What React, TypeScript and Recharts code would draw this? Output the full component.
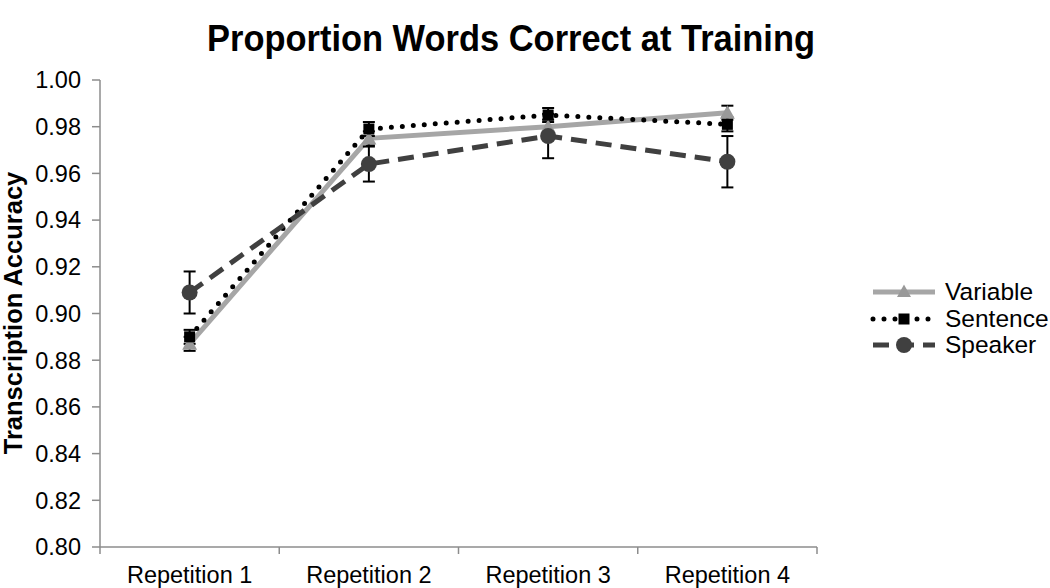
import React from 'react';
import { LineChart, Line, XAxis, YAxis, ErrorBar, Legend } from 'recharts';

const categories = ['Repetition 1', 'Repetition 2', 'Repetition 3', 'Repetition 4'];
const variable = [0.887, 0.975, 0.98, 0.986];
const variableErr = [0.003, 0.003, 0.003, 0.003];
const sentence = [0.89, 0.979, 0.985, 0.981];
const sentenceErr = [0.003, 0.003, 0.003, 0.003];
const speaker = [0.909, 0.964, 0.976, 0.965];
const speakerErr = [0.009, 0.0075, 0.0095, 0.011];
const yTicks = [0.8, 0.82, 0.84, 0.86, 0.88, 0.9, 0.92, 0.94, 0.96, 0.98, 1.0];
const seriesNames = ['Variable', 'Sentence', 'Speaker'];

const data = categories.map((c, i) => ({
  x: i + 1,
  category: c,
  variable: variable[i],
  variableErr: variableErr[i],
  sentence: sentence[i],
  sentenceErr: sentenceErr[i],
  speaker: speaker[i],
  speakerErr: speakerErr[i],
}));

const xTicks = categories.flatMap((_, i) => [i + 0.5, i + 1]).concat([categories.length + 0.5]);

const FONT = '"Liberation Sans", Arial, sans-serif';
const AXIS_GRAY = '#8c8c8c';
const VAR_COLOR = '#a6a6a6';
const VAR_MARK = '#999999';
const SENT_COLOR = '#000000';
const SPK_COLOR = '#404040';

const Triangle = (props: any) => {
  const { cx, cy } = props;
  if (cx == null || cy == null) return null;
  return <polygon points={`${cx},${cy - 7.5} ${cx + 7.5},${cy + 6} ${cx - 7.5},${cy + 6}`} fill={VAR_MARK} />;
};
const Square = (props: any) => {
  const { cx, cy } = props;
  if (cx == null || cy == null) return null;
  return <rect x={cx - 5.5} y={cy - 5.5} width={11} height={11} fill={SENT_COLOR} />;
};
const Circle = (props: any) => {
  const { cx, cy } = props;
  if (cx == null || cy == null) return null;
  return <circle cx={cx} cy={cy} r={8} fill={SPK_COLOR} />;
};

const XTick = (props: any) => {
  const { x, y, payload } = props;
  const v = payload.value;
  if (Number.isInteger(v)) {
    return (
      <text x={x} y={y + 36} textAnchor="middle" fontSize={23.5} fill="#000" fontFamily={FONT}>
        {categories[v - 1]}
      </text>
    );
  }
  return <line x1={x} x2={x} y1={y} y2={y + 7} stroke={AXIS_GRAY} strokeWidth={1.5} />;
};

const LegendContent = () => {
  const rows = [
    { name: seriesNames[0], stroke: VAR_COLOR, dash: undefined, cap: 'butt', mark: <polygon points="35,5.5 42,18 28,18" fill={VAR_MARK} /> },
    { name: seriesNames[1], stroke: SENT_COLOR, dash: '0 11', cap: 'round', mark: <rect x={29.5} y={7.5} width={11} height={11} fill={SENT_COLOR} /> },
    { name: seriesNames[2], stroke: SPK_COLOR, dash: '16 9', cap: 'butt', mark: <circle cx={35} cy={13} r={8} fill={SPK_COLOR} /> },
  ];
  return (
    <div style={{ fontFamily: FONT }}>
      {rows.map((r) => (
        <div key={r.name} style={{ display: 'flex', alignItems: 'center', height: 26.5 }}>
          <svg width={70} height={26}>
            <line x1={4} x2={66} y1={13} y2={13} stroke={r.stroke} strokeWidth={5} strokeDasharray={r.dash} strokeLinecap={r.cap as any} />
            {r.mark}
          </svg>
          <span style={{ fontSize: 24.5, marginLeft: 6, color: '#000' }}>{r.name}</span>
        </div>
      ))}
    </div>
  );
};

export default function App() {
  return (
    <div style={{ position: 'absolute', left: 0, top: 0, width: 1050, height: 588, background: '#fff' }}>
      <LineChart width={1050} height={588} data={data} margin={{ top: 80, right: 43, bottom: 11, left: 0 }}>
        <XAxis
          dataKey="x"
          type="number"
          domain={[0.5, 4.5]}
          ticks={xTicks}
          interval={0}
          tick={<XTick />}
          tickLine={false}
          tickSize={0}
          tickMargin={0}
          height={30}
          stroke={AXIS_GRAY}
          strokeWidth={1.5}
        />
        <YAxis
          type="number"
          domain={[0.8, 1.0]}
          ticks={yTicks}
          interval={0}
          width={100}
          tickFormatter={(v: number) => v.toFixed(2)}
          tick={{ fontSize: 23.5, fill: '#000', fontFamily: FONT }}
          tickSize={8}
          tickMargin={11}
          stroke={AXIS_GRAY}
          strokeWidth={1.5}
        />
        <Legend
          layout="vertical"
          align="right"
          verticalAlign="middle"
          width={190}
          content={<LegendContent />}
          wrapperStyle={{ left: 869, top: 279 }}
        />
        <Line
          dataKey="variable"
          name={seriesNames[0]}
          stroke={VAR_COLOR}
          strokeWidth={5}
          dot={<Triangle />}
          activeDot={false}
          isAnimationActive={false}
        >
          <ErrorBar dataKey="variableErr" direction="y" width={6} stroke="#000" strokeWidth={2} />
        </Line>
        <Line
          dataKey="sentence"
          name={seriesNames[1]}
          stroke={SENT_COLOR}
          strokeWidth={5}
          strokeDasharray="0 11"
          strokeLinecap="round"
          dot={<Square />}
          activeDot={false}
          isAnimationActive={false}
        >
          <ErrorBar dataKey="sentenceErr" direction="y" width={6} stroke="#000" strokeWidth={2} />
        </Line>
        <Line
          dataKey="speaker"
          name={seriesNames[2]}
          stroke={SPK_COLOR}
          strokeWidth={5}
          strokeDasharray="16 9"
          dot={<Circle />}
          activeDot={false}
          isAnimationActive={false}
        >
          <ErrorBar dataKey="speakerErr" direction="y" width={6} stroke="#000" strokeWidth={2} />
        </Line>
      </LineChart>
      <svg width={1050} height={588} style={{ position: 'absolute', left: 0, top: 0, pointerEvents: 'none' }}>
        <text x={511} y={51} textAnchor="middle" fontSize={37} fontWeight="bold" fontFamily={FONT} fill="#000" textLength={608} lengthAdjust="spacingAndGlyphs">
          Proportion Words Correct at Training
        </text>
        <text
          x={0}
          y={0}
          transform="translate(22, 313) rotate(-90)"
          textAnchor="middle"
          fontSize={25.5}
          fontWeight="bold"
          fontFamily={FONT}
          fill="#000"
        >
          Transcription Accuracy
        </text>
      </svg>
    </div>
  );
}
